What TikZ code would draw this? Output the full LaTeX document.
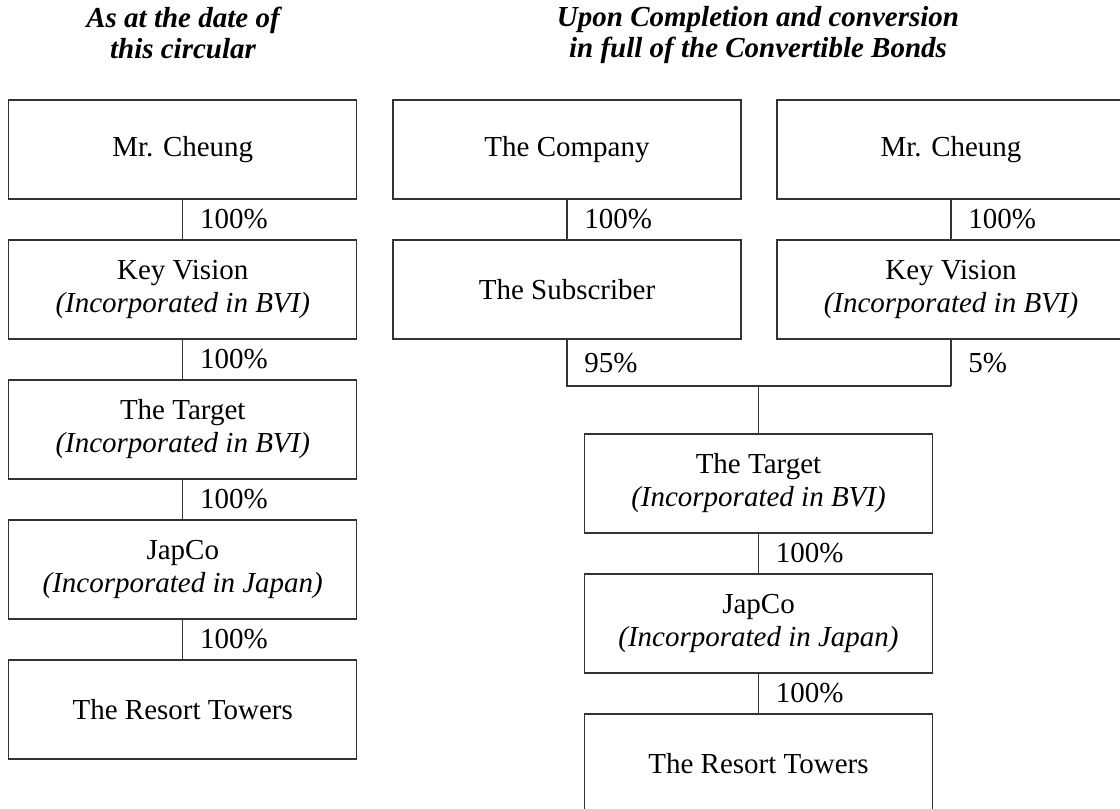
\documentclass[tikz,border=0pt]{standalone}
\usepackage{fontspec}
\setmainfont{Liberation Serif}
\usetikzlibrary{positioning}
\begin{document}
\begin{tikzpicture}[x=0.5pt, y=-0.5pt, node distance={70pt}, line width=0.7pt, color=black!80,
    main/.style = {draw, text=black, minimum width=174pt, minimum height=49.5pt, inner sep=0pt, align=center, font=\fontsize{14.5}{16.5}\selectfont},
    pct/.style = {text=black, font=\fontsize{14.5}{16.5}\selectfont},
    head/.style = {text=black, anchor=north, inner sep=0pt, align=center, font=\fontsize{14.5}{15.5}\selectfont\bfseries\itshape}]
\useasboundingbox (0,0) rectangle (1120,809);
\node[head] (h1) at (183,6) {As at the date of\\this circular};
\node[head] (h2) at (758,6) {Upon Completion and conversion\\in full of the Convertible Bonds};
% before
\node[main] (c1) at (182.75,149.5) {Mr. Cheung};
\node[main] (k1) [below of=c1] {Key Vision\\\textit{(Incorporated in BVI)}};
\node[main] (t1) [below of=k1] {The Target\\\textit{(Incorporated in BVI)}};
\node[main] (j1) [below of=t1] {JapCo\\\textit{(Incorporated in Japan)}};
\node[main] (r1) [below of=j1] {The Resort Towers};
\draw (c1) -- (k1) node[pct, midway, right=5pt] {100\%};
\draw (k1) -- (t1) node[pct, midway, right=5pt] {100\%};
\draw (t1) -- (j1) node[pct, midway, right=5pt] {100\%};
\draw (j1) -- (r1) node[pct, midway, right=5pt] {100\%};
% after
\node[main] (co) at (567,149.5) {The Company};
\node[main] (sub) [below of=co] {The Subscriber};
\node[main] (c2) at (951,149.5) {Mr. Cheung};
\node[main] (k2) [below of=c2] {Key Vision\\\textit{(Incorporated in BVI)}};
\node[main] (t2) at (758.5,483.5) {The Target\\\textit{(Incorporated in BVI)}};
\node[main] (j2) [below of=t2] {JapCo\\\textit{(Incorporated in Japan)}};
\node[main] (r2) [below of=j2] {The Resort Towers};
\coordinate (join) at (t2.north |- 0,386);
\draw (co) -- (sub) node[pct, midway, right=5pt] {100\%};
\draw (c2) -- (k2) node[pct, midway, right=5pt] {100\%};
\draw (sub.south) -- (sub.south |- join) node[pct, midway, right=5pt] {95\%}
    -- (k2.south |- join);
\draw (k2.south) -- (k2.south |- join) node[pct, midway, right=5pt] {5\%};
\draw (join) -- (t2.north);
\draw (t2) -- (j2) node[pct, midway, right=5pt] {100\%};
\draw (j2) -- (r2) node[pct, midway, right=5pt] {100\%};
\end{tikzpicture}
\end{document}
